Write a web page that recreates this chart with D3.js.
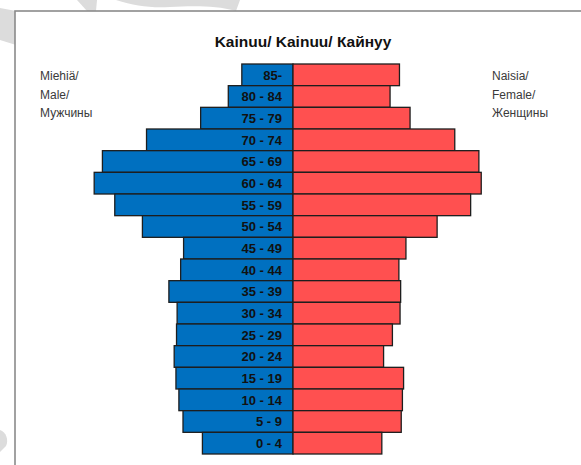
<!DOCTYPE html>
<html>
<head>
<meta charset="utf-8">
<script src="https://cdn.jsdelivr.net/npm/d3@7"></script>
<style>
  html, body { margin: 0; padding: 0; background: #fff; }
  svg { display: block; }
</style>
</head>
<body>
<svg id="chart" width="581" height="465"></svg>
<script>
// age groups, top to bottom
const ageGroups = ['85-', '80 - 84', '75 - 79', '70 - 74', '65 - 69', '60 - 64', '55 - 59',
  '50 - 54', '45 - 49', '40 - 44', '35 - 39', '30 - 34', '25 - 29', '20 - 24',
  '15 - 19', '10 - 14', '5 - 9', '0 - 4'];

// estimated counts
const males = [870, 1100, 1570, 2490, 3240, 3380, 3030, 2560, 1860, 1910, 2110,
  1970, 1980, 2020, 1990, 1940, 1870, 1540];
const females = [1810, 1650, 1990, 2750, 3160, 3200, 3020, 2450, 1920, 1800, 1830,
  1820, 1690, 1540, 1880, 1860, 1840, 1510];

const titleText = 'Kainuu/ Kainuu/ Кайнуу';
const maleLabel = ['Miehiä/', 'Male/', 'Мужчины'];
const femaleLabel = ['Naisia/', 'Female/', 'Женщины'];

const svg = d3.select('#chart');
const centerX = 293;

const y = d3.scaleBand()
  .domain(ageGroups)
  .range([64, 454])
  .padding(0);

const x = d3.scaleLinear()
  .domain([0, 3400])
  .range([0, 200]);

// faint background swooshes
const swoosh = svg.append('g').attr('fill', '#dcdcdc');
swoosh.append('path').attr('d', 'M0,8 L16,11 L16,45 L0,40 Z');
swoosh.append('path').attr('d', 'M77,0 L97,0 L96,11 L87,11 Z');
swoosh.append('path')
  .attr('d', 'M116,0 L240,0 L236,11 C215,5 190,6 170,7 C150,8 135,6 116,0 Z');
swoosh.append('path').attr('d', 'M0,430 C6,432 9,440 6,446 L0,452 Z');

// frame
svg.append('rect')
  .attr('x', 15).attr('y', 11)
  .attr('width', 600).attr('height', 500)
  .attr('fill', '#fff')
  .attr('stroke', '#8a8a8a')
  .attr('stroke-width', 1.6);

// title
svg.append('text')
  .attr('x', 303).attr('y', 47)
  .attr('text-anchor', 'middle')
  .style('font-family', 'Liberation Sans, Arial, sans-serif')
  .style('font-weight', 'bold')
  .style('font-size', '15.5px')
  .style('fill', '#111')
  .text(titleText);

// side labels
const sideLabel = (lines, xPos) => {
  svg.append('g')
    .selectAll('text')
    .data(lines)
    .join('text')
    .attr('x', xPos)
    .attr('y', (d, i) => 80 + i * 18.5)
    .style('font-family', 'Liberation Sans, Arial, sans-serif')
    .style('font-size', '12px')
    .style('fill', '#3a3a3a')
    .text(d => d);
};
sideLabel(maleLabel, 40);
sideLabel(femaleLabel, 492);

// bars
const bars = svg.append('g')
  .attr('stroke', '#1e1e1e')
  .attr('stroke-width', 1.3);

bars.selectAll('rect.male')
  .data(males)
  .join('rect')
  .attr('class', 'male')
  .attr('x', d => centerX - x(d))
  .attr('y', (d, i) => y(ageGroups[i]))
  .attr('width', d => x(d))
  .attr('height', y.bandwidth())
  .attr('fill', '#0070C0');

bars.selectAll('rect.female')
  .data(females)
  .join('rect')
  .attr('class', 'female')
  .attr('x', centerX)
  .attr('y', (d, i) => y(ageGroups[i]))
  .attr('width', d => x(d))
  .attr('height', y.bandwidth())
  .attr('fill', '#FF5050');

// age labels
svg.append('g')
  .selectAll('text')
  .data(ageGroups)
  .join('text')
  .attr('x', 282)
  .attr('y', d => y(d) + y.bandwidth() / 2)
  .attr('dy', '0.36em')
  .attr('text-anchor', 'end')
  .style('font-family', 'Liberation Sans, Arial, sans-serif')
  .style('font-weight', 'bold')
  .style('font-size', '13px')
  .style('fill', '#111')
  .text(d => d);
</script>
</body>
</html>
